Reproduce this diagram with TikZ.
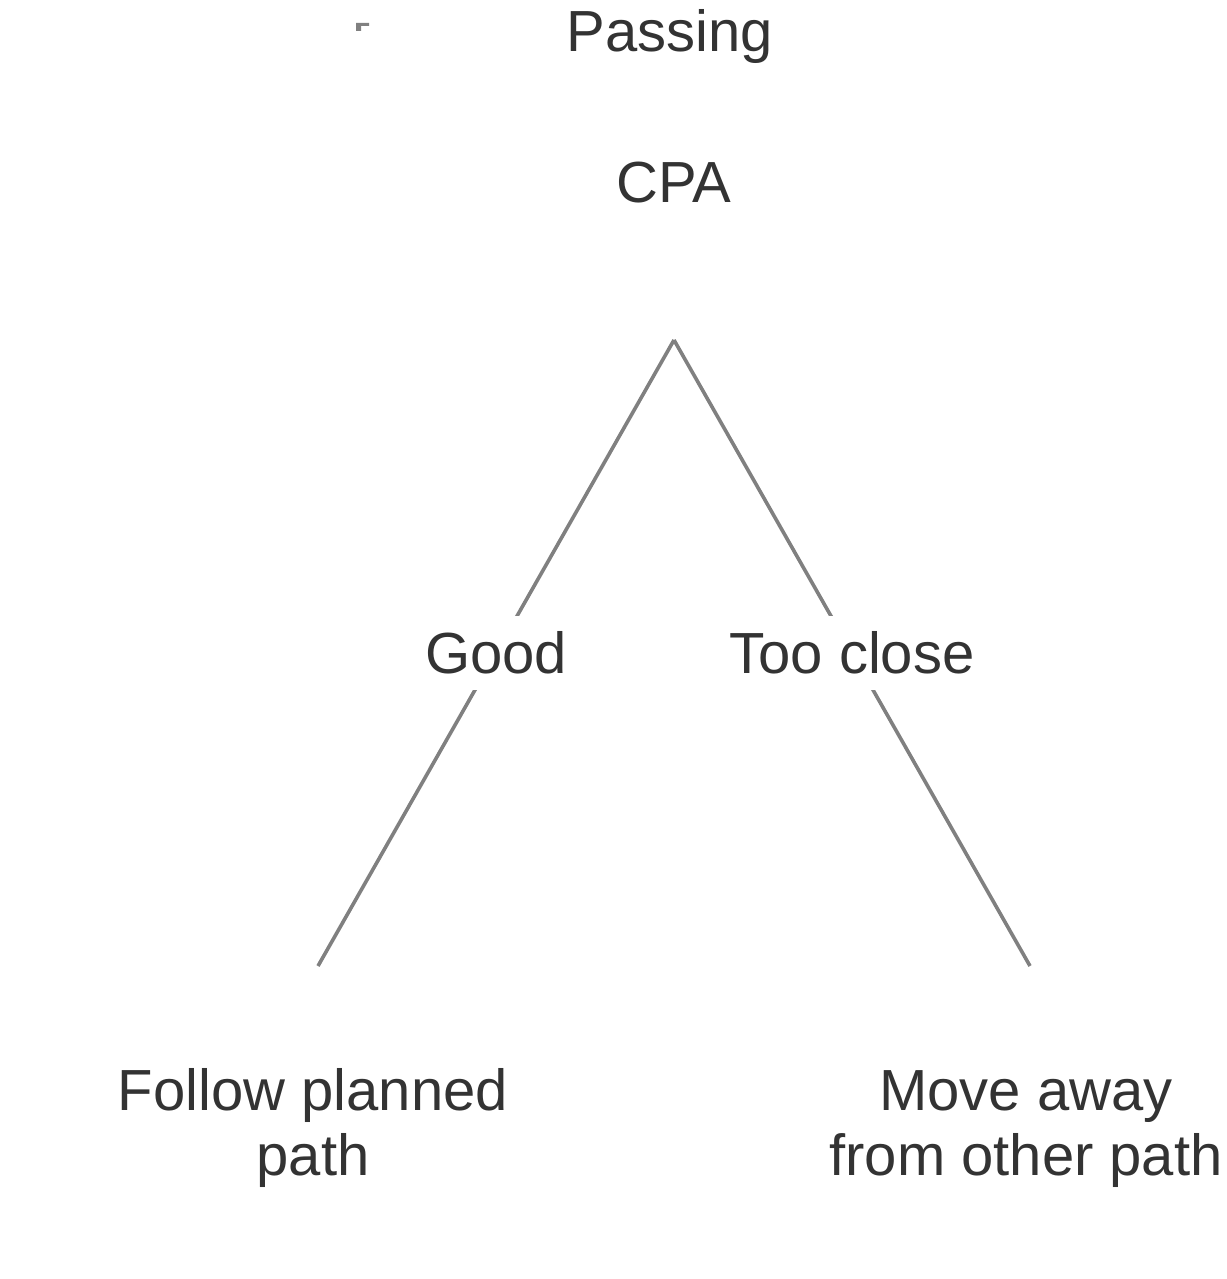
\documentclass[tikz,border=0pt]{standalone}
\usepackage{fontspec}
\setmainfont{Liberation Sans}
\definecolor{txtgray}{HTML}{333333}
\definecolor{linegray}{HTML}{808080}

\begin{document}
\begin{tikzpicture}[x=0.5pt,y=-0.5pt,
    lbl/.style={text=txtgray,font=\fontsize{29}{32.5}\selectfont,align=center},
    cut/.style={lbl,fill=white,inner sep=8pt},
    branch/.style={draw=linegray,line width=1.8pt}]
    \useasboundingbox (0,0) rectangle (1226,1279);
    %\draw [black!20] (0,0) grid (1226,1279);
    \fill [linegray] (356,23) -- (369,23) -- (369,26) -- (361,26) -- (361,31) -- (356,31) -- cycle;
    \node [lbl,anchor=base] (passing) at (670,52) {Passing};
    \node [lbl,anchor=base] (cpa) at (674,202) {CPA};
    \coordinate (root) at (674,340);
    \coordinate (leftend) at (318,966);
    \coordinate (rightend) at (1030,966);
    \draw [branch] (root) -- node [cut] (good) {Good} (leftend);
    \draw [branch] (root) -- node [cut] (close) {Too close} (rightend);
    \node [lbl,anchor=base] (follow) at (313,1175) {Follow planned\\path};
    \node [lbl,anchor=base] (away) at (1026,1175) {Move away\\from other path};
\end{tikzpicture}
\end{document}
